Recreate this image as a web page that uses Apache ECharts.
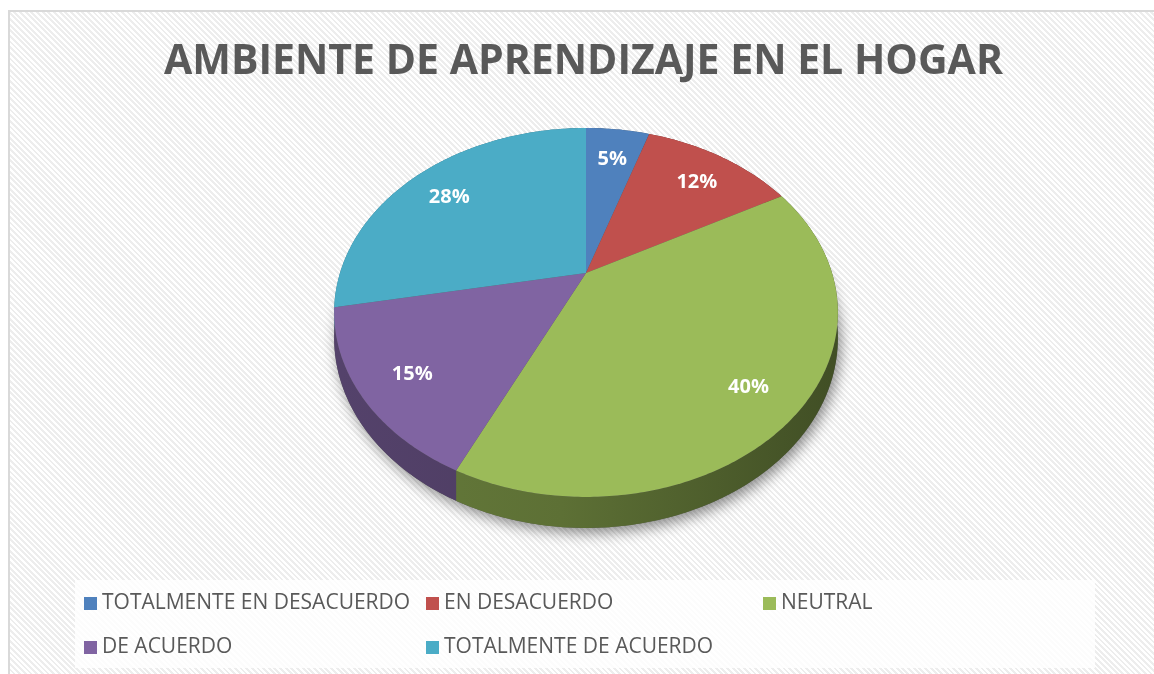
<!DOCTYPE html>
<html lang="es">
<head>
<meta charset="UTF-8">
<title>Ambiente de aprendizaje en el hogar</title>
<script src="https://cdn.jsdelivr.net/npm/echarts@6.0.0/dist/echarts.min.js"></script>
<style>
  html, body { margin: 0; padding: 0; background: #fff; overflow: hidden; }
  #frame {
    position: absolute; left: 8px; top: 10px; width: 1170px; height: 690px;
    border: 2px solid #d9d9d9;
    background: repeating-linear-gradient(45deg, #ffffff 0 2px, #ededed 2px 4px);
  }
  #chart { position: absolute; left: 0; top: 0; width: 1154px; height: 674px; }
</style>
</head>
<body>
<div id="frame"></div>
<div id="chart"></div>
<script>
const categories = ['TOTALMENTE EN DESACUERDO', 'EN DESACUERDO', 'NEUTRAL', 'DE ACUERDO', 'TOTALMENTE DE ACUERDO'];
const values = [5, 12, 40, 15, 28];
const colors = ['#4f81bd', '#c0504d', '#9bbb59', '#8064a2', '#4bacc6'];

// legend slots (Excel style grid)
const legendLeft = [84, 426, 763, 84, 426];
const legendTop = [593, 593, 593, 637, 637];

// perspective pie geometry
const CX = 586, CY = 273, SX = 246, SY = 176, P = 0.214, DEPTH = 24.4;
const total = values.reduce((a, b) => a + b, 0);
const starts = [];
let acc = 0;
values.forEach(v => { starts.push(acc / total); acc += v; });

function proj(frac, r, down) {
  const t = frac * 2 * Math.PI;
  const u = Math.sin(t) * r, v = Math.cos(t) * r;
  const k = 1 / (1 + v * P);
  return [CX + SX * u * k, CY - SY * v * k + (down ? DEPTH * k : 0)];
}

function shade(hex, f) {
  const c = echarts.color.parse(hex);
  return 'rgb(' + [0, 1, 2].map(i => Math.round(c[i] * f)).join(',') + ')';
}

function sideFill(hex) {
  return {
    type: 'linear', global: true, x: CX - SX, y: 0, x2: CX + SX, y2: 0,
    colorStops: [
      { offset: 0, color: shade(hex, 0.66) },
      { offset: 0.45, color: shade(hex, 0.6) },
      { offset: 1, color: shade(hex, 0.42) }
    ]
  };
}

function renderSlice(params, api) {
  const i = params.seriesIndex;
  const f0 = starts[i], f1 = f0 + api.value(0) / total;
  const n = Math.max(2, Math.ceil((f1 - f0) / 0.002));
  const top = [[CX, CY]], rim = [], base = [];
  for (let j = 0; j <= n; j++) {
    const f = f0 + (f1 - f0) * j / n;
    const p = proj(f, 1, false);
    top.push(p);
    rim.push(p);
    base.unshift(proj(f, 1, true));
  }
  const lp = proj((f0 + f1) / 2, 0.8, false);
  const children = [];
  if (i === 0) {
    // soft shadow under the whole pie
    const ring = [];
    for (let j = 0; j <= 360; j++) ring.push(proj(j / 360, 1, true));
    children.push({
      type: 'polygon', shape: { points: ring }, z2: 0,
      style: { fill: '#555', shadowBlur: 14, shadowOffsetX: 3, shadowOffsetY: 5, shadowColor: 'rgba(0,0,0,0.45)' }
    });
  }
  children.push({ type: 'polygon', shape: { points: rim.concat(base) }, z2: 2, style: { fill: sideFill(colors[i]) } });
  children.push({ type: 'polygon', shape: { points: top }, z2: 10, style: { fill: colors[i] } });
  children.push({
    type: 'text', x: lp[0], y: lp[1] + 5, z2: 20,
    style: {
      text: Math.round(api.value(0) / total * 100) + '%', fill: '#fff',
      font: 'bold 20px "Open Sans"', align: 'center', verticalAlign: 'middle'
    }
  });
  return { type: 'group', children };
}

const chart = echarts.init(document.getElementById('chart'));
chart.setOption({
  animation: false,
  color: colors,
  title: {
    text: 'AMBIENTE DE APRENDIZAJE EN EL HOGAR',
    left: 164, top: 42, padding: 0,
    textStyle: { fontFamily: 'Open Sans', fontWeight: 'bold', fontSize: 41, color: '#595959' }
  },
  graphic: [{
    type: 'rect', left: 75, top: 580, z: -1,
    shape: { width: 1020, height: 88 },
    style: { fill: 'rgba(255,255,255,0.82)' }
  }],
  legend: categories.map((name, i) => ({
    data: [name], left: legendLeft[i], top: legendTop[i], padding: 0,
    icon: 'rect', itemWidth: 13, itemHeight: 13, selectedMode: false,
    textStyle: { fontFamily: 'Open Sans', fontSize: 21, color: '#595959' }
  })),
  series: categories.map((name, i) => ({
    type: 'custom', name, coordinateSystem: 'none',
    itemStyle: { color: colors[i] },
    renderItem: renderSlice,
    data: [values[i]]
  }))
});
</script>
</body>
</html>
